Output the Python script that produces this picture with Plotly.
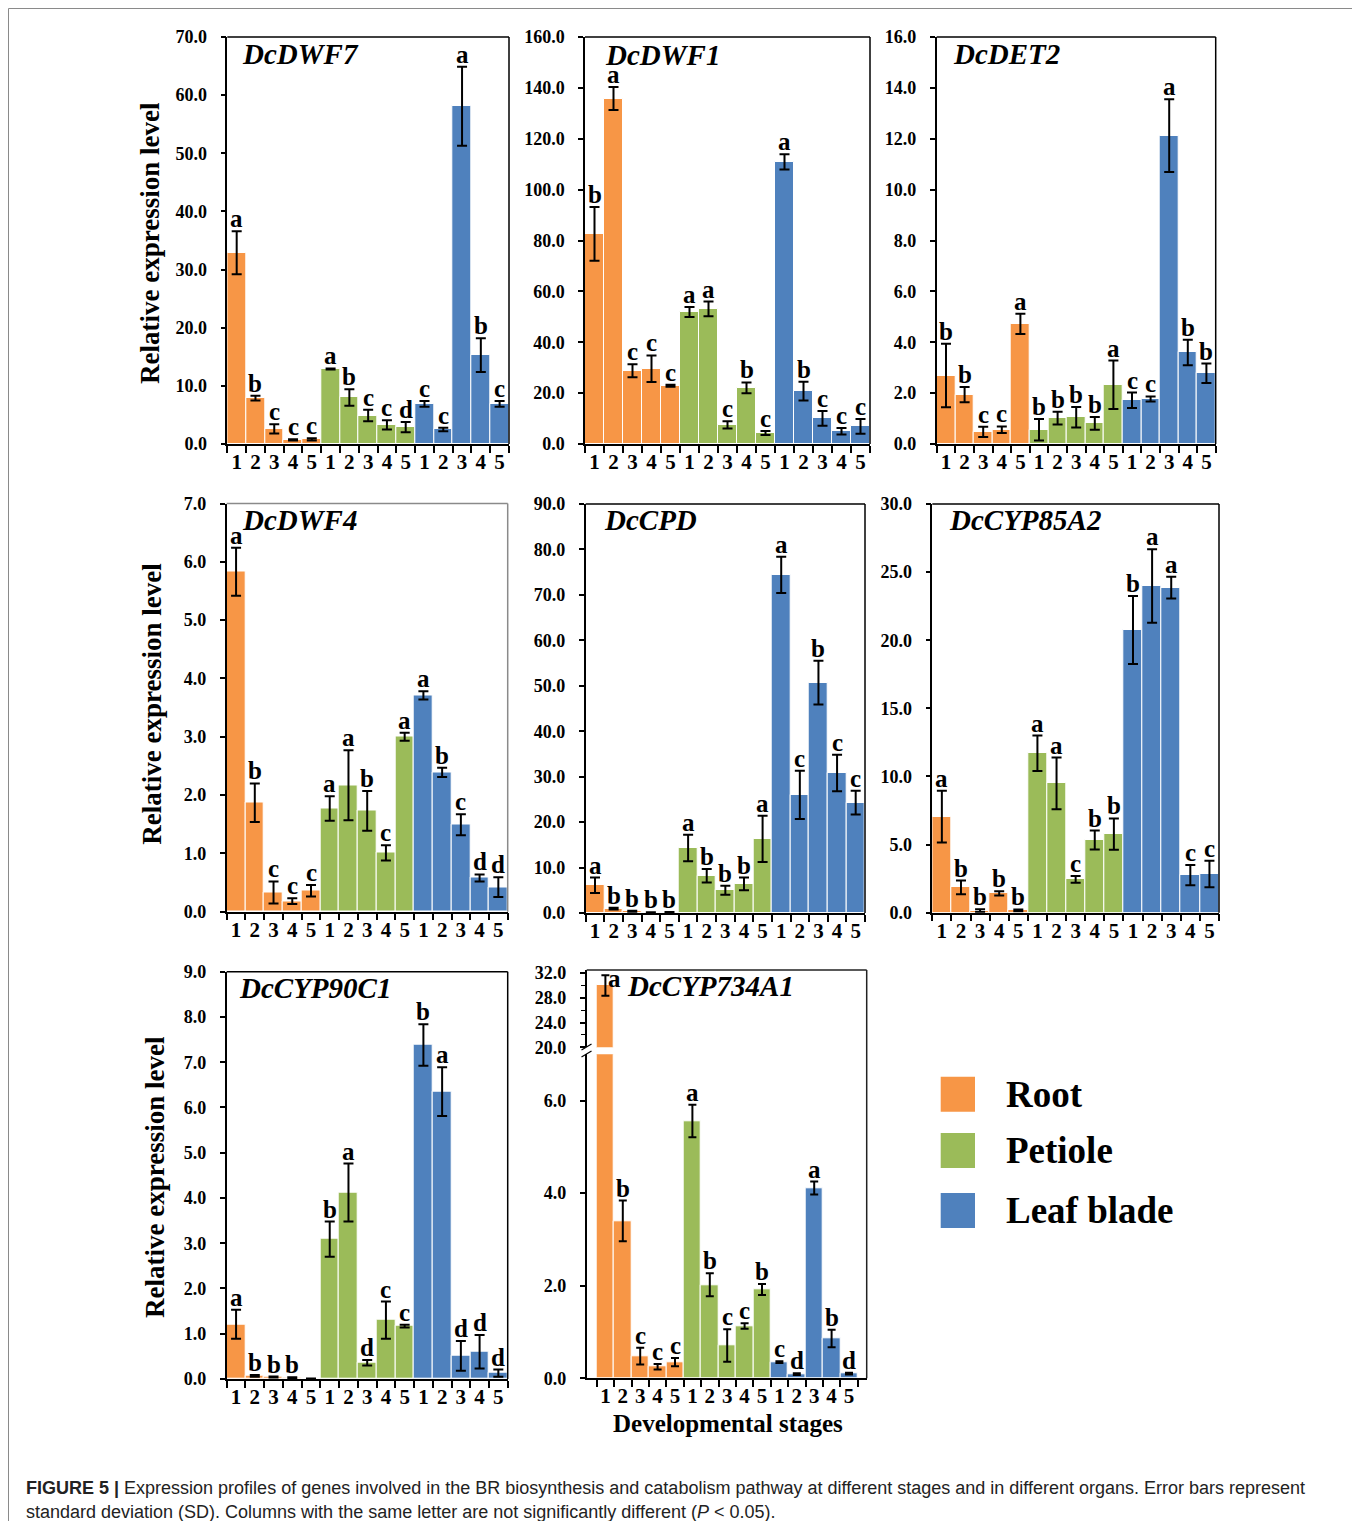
import plotly.graph_objects as go

# the page body has an 8px margin; the figure is laid out in reference pixel coordinates minus 8
OFF = 8
W, H = 1352, 1513

STAGES = ["1", "2", "3", "4", "5"]
ORGANS = ["Root", "Petiole", "Leaf blade"]
ORGAN_COLORS = ["#F79646", "#9BBB59", "#4F81BD"]

# each list: 5 root stages, 5 petiole stages, 5 leaf blade stages
DWF7_mean = [32.9, 7.9, 2.6, 0.7, 0.8, 12.9, 8.0, 4.9, 3.3, 2.9, 6.9, 2.5, 58.1, 15.3, 6.9]
DWF7_sd = [3.7, 0.4, 0.8, 0.1, 0.2, 0.1, 1.4, 1.0, 0.8, 0.9, 0.5, 0.3, 6.8, 2.9, 0.5]
DWF7_sig = ["a", "b", "c", "c", "c", "a", "b", "c", "c", "d", "c", "c", "a", "b", "c"]

DWF1_mean = [82.6, 135.8, 28.8, 29.6, 22.9, 51.9, 53.1, 7.5, 22.1, 4.3, 110.9, 20.8, 10.1, 5.0, 6.9]
DWF1_sd = [10.6, 4.5, 2.6, 5.2, 0.4, 2.0, 2.9, 1.4, 2.1, 0.8, 3.0, 3.7, 2.9, 1.3, 2.9]
DWF1_sig = ["b", "a", "c", "c", "c", "a", "a", "c", "b", "c", "a", "b", "c", "c", "c"]

DET2_mean = [2.69, 1.94, 0.48, 0.56, 4.72, 0.56, 1.02, 1.05, 0.81, 2.33, 1.72, 1.77, 12.12, 3.60, 2.78]
DET2_sd = [1.25, 0.30, 0.20, 0.13, 0.40, 0.42, 0.25, 0.40, 0.25, 0.95, 0.30, 0.10, 1.43, 0.50, 0.38]
DET2_sig = ["b", "b", "c", "c", "a", "b", "b", "b", "b", "a", "c", "c", "a", "b", "b"]

DWF4_mean = [5.83, 1.87, 0.33, 0.18, 0.36, 1.77, 2.17, 1.73, 1.01, 3.00, 3.71, 2.39, 1.49, 0.58, 0.42]
DWF4_sd = [0.41, 0.33, 0.19, 0.05, 0.10, 0.21, 0.60, 0.34, 0.13, 0.07, 0.07, 0.08, 0.18, 0.06, 0.17]
DWF4_sig = ["a", "b", "c", "c", "c", "a", "a", "b", "c", "a", "a", "b", "c", "d", "d"]

CPD_mean = [6.1, 0.95, 0.37, 0.10, 0.15, 14.3, 8.2, 5.0, 6.4, 16.3, 74.4, 26.0, 50.7, 30.8, 24.3]
CPD_sd = [1.7, 0.2, 0.1, 0.05, 0.05, 2.9, 1.5, 1.0, 1.4, 5.1, 4.0, 5.3, 4.8, 4.0, 2.6]
CPD_sig = ["a", "b", "b", "b", "b", "a", "b", "b", "b", "a", "a", "c", "b", "c", "c"]

CYP85A2_mean = [7.05, 1.86, 0.15, 1.42, 0.17, 11.7, 9.49, 2.45, 5.33, 5.77, 20.75, 23.98, 23.86, 2.76, 2.84]
CYP85A2_sd = [1.90, 0.50, 0.10, 0.15, 0.07, 1.30, 1.90, 0.25, 0.70, 1.15, 2.50, 2.70, 0.80, 0.75, 0.98]
CYP85A2_sig = ["a", "b", "b", "b", "b", "a", "a", "c", "b", "b", "b", "a", "a", "c", "c"]

CYP90C1_mean = [1.21, 0.07, 0.045, 0.03, 0.01, 3.09, 4.12, 0.36, 1.30, 1.17, 7.38, 6.35, 0.51, 0.60, 0.13]
CYP90C1_sd = [0.32, 0.02, 0.01, 0.01, 0.0, 0.39, 0.64, 0.06, 0.41, 0.03, 0.46, 0.54, 0.33, 0.37, 0.08]
CYP90C1_sig = ["a", "b", "b", "b", "", "b", "a", "d", "c", "c", "b", "a", "d", "d", "d"]

CYP734A1_mean = [30.0, 3.40, 0.48, 0.25, 0.35, 5.56, 2.02, 0.71, 1.13, 1.92, 0.35, 0.09, 4.11, 0.86, 0.10]
CYP734A1_sd = [1.65, 0.44, 0.18, 0.06, 0.09, 0.35, 0.25, 0.35, 0.06, 0.12, 0.02, 0.02, 0.14, 0.19, 0.02]
CYP734A1_sig = ["a", "b", "c", "c", "c", "a", "b", "c", "c", "b", "c", "d", "a", "b", "d"]

Y_TITLE = "Relative expression level"
X_TITLE = "Developmental stages"
CAPTION_1 = ("<b>FIGURE 5 |</b> Expression profiles of genes involved in the BR biosynthesis and catabolism "
             "pathway at different stages and in different organs. Error bars represent")
CAPTION_2 = ("standard deviation (SD). Columns with the same letter are not significantly different "
             "(<i>P</i> &lt; 0.05).")

SERIF = "Liberation Serif"


def fx(px):
    return (px - OFF) / W


def fy(py):
    return 1 - (py - OFF) / H


# panel geometry in reference pixels: (left, right, top, bottom)
panels = [
    dict(gene="DcDWF7", mean=DWF7_mean, sd=DWF7_sd, sig=DWF7_sig, yr=[0, 70], dt=10,
         box=(227.3, 509, 37, 444), name=(240, 54), frame="black"),
    dict(gene="DcDWF1", mean=DWF1_mean, sd=DWF1_sd, sig=DWF1_sig, yr=[0, 160], dt=20,
         box=(585, 870, 37, 444), name=(603, 55), frame="black"),
    dict(gene="DcDET2", mean=DET2_mean, sd=DET2_sd, sig=DET2_sig, yr=[0, 16], dt=2,
         box=(936.7, 1215.7, 37, 444), name=(951, 54), frame="black"),
    dict(gene="DcDWF4", mean=DWF4_mean, sd=DWF4_sd, sig=DWF4_sig, yr=[0, 7], dt=1,
         box=(226.7, 507.7, 503.5, 911.7), name=(240, 520), frame="#8a8a8a"),
    dict(gene="DcCPD", mean=CPD_mean, sd=CPD_sd, sig=CPD_sig, yr=[0, 90], dt=10,
         box=(585.7, 865, 504, 913), name=(602, 520), frame="black"),
    dict(gene="DcCYP85A2", mean=CYP85A2_mean, sd=CYP85A2_sd, sig=CYP85A2_sig, yr=[0, 30], dt=5,
         box=(932.3, 1219, 504, 912.7), name=(947, 520), frame="black"),
    dict(gene="DcCYP90C1", mean=CYP90C1_mean, sd=CYP90C1_sd, sig=CYP90C1_sig, yr=[0, 9], dt=1,
         box=(226.7, 507.7, 971.7, 1379), name=(236.7, 988), frame="black"),
    dict(gene="DcCYP734A1", mean=CYP734A1_mean, sd=CYP734A1_sd, sig=CYP734A1_sig, yr=[0, 7.0], dt=2,
         box=(586.7, 866.7, 1054.3, 1378.3), name=(625, 986), frame="#222222"),
]
# broken-axis upper segment for the last panel
UPPER_BOX = (586.7, 866.7, 970, 1047.3)
UPPER_RANGE = [20, 32.5]

fig = go.Figure()
layout = dict(
    width=W, height=H, margin=dict(l=0, r=0, t=0, b=0, pad=0, autoexpand=False),
    paper_bgcolor="white", plot_bgcolor="white", showlegend=False,
    bargap=0, barmode="overlay",
)
annotations = []
shapes = []

tick_vals = list(range(1, 16))
tick_text = STAGES * 3
boundaries = [i + 0.5 for i in range(0, 16)]


def add_bars(xref, yref, p, err_w):
    for k, organ in enumerate(ORGANS):
        xs = [k * 5 + j + 1 for j in range(5)]
        fig.add_trace(go.Bar(
            x=xs, y=p["mean"][k * 5:(k + 1) * 5], name=organ,
            marker=dict(color=ORGAN_COLORS[k], line=dict(color="white", width=1)),
            error_y=dict(type="data", array=p["sd"][k * 5:(k + 1) * 5], color="black",
                         thickness=2, width=err_w, visible=True),
            width=1.0, xaxis=xref, yaxis=yref, hoverinfo="skip",
        ))


for i, p in enumerate(panels, start=1):
    sfx = "" if i == 1 else str(i)
    xref, yref = "x" + sfx, "y" + sfx
    l, r, t, b = p["box"]
    last = (i == 8)
    if last:
        slot = 17.4
        xr = [1 - 0.5 - (596.7 - l) / slot, 15.5 + (r - 857.7) / slot]
    else:
        xr = [0.5, 15.5]
    add_bars(xref, yref, p, 4 if last else 5)
    layout["xaxis" + sfx] = dict(
        domain=[fx(l), fx(r)], anchor=yref, range=xr, showgrid=False, zeroline=False,
        automargin=False,
        showline=True, linecolor="black", linewidth=1.5,
        tickmode="array", tickvals=tick_vals, ticktext=tick_text, ticks="",
        ticklabelstandoff=-2,
        tickfont=dict(family=SERIF, size=21, color="black", weight="bold"),
        minor=dict(tickmode="array", tickvals=boundaries, ticks="outside", ticklen=7,
                   tickwidth=1.5, tickcolor="black"),
        fixedrange=True,
    )
    ydict = dict(
        domain=[fy(b), fy(t)], anchor=xref, range=p["yr"], showgrid=False, zeroline=False,
        automargin=False,
        showline=True, linecolor="black", linewidth=1.5,
        ticks="outside", ticklen=5, tickwidth=1.5, tickcolor="black", tickformat=".1f",
        ticklabelstandoff=10,
        tickfont=dict(family=SERIF, size=18, color="black", weight="bold"),
        fixedrange=True,
    )
    if last:
        ydict.update(tickmode="array", tickvals=[0, 2, 4, 6])
    else:
        ydict.update(tick0=0, dtick=p["dt"])
    layout["yaxis" + sfx] = ydict

    # top and right frame lines
    if last:
        shapes.append(dict(type="line", xref="paper", yref="paper",
                           x0=fx(l), x1=fx(r), y0=fy(UPPER_BOX[2]), y1=fy(UPPER_BOX[2]),
                           line=dict(color=p["frame"], width=1.5)))
        shapes.append(dict(type="line", xref="paper", yref="paper",
                           x0=fx(r), x1=fx(r), y0=fy(UPPER_BOX[2]), y1=fy(b),
                           line=dict(color=p["frame"], width=1.5)))
    else:
        shapes.append(dict(type="line", xref=xref + " domain", yref=yref + " domain",
                           x0=0, x1=1, y0=1, y1=1, line=dict(color=p["frame"], width=1.5)))
        shapes.append(dict(type="line", xref=xref + " domain", yref=yref + " domain",
                           x0=1, x1=1, y0=0, y1=1, line=dict(color=p["frame"], width=1.5)))

    # gene name
    nx, ny = p["name"]
    annotations.append(dict(
        text=p["gene"], xref="paper", yref="paper", x=fx(nx), y=fy(ny),
        xanchor="left", yanchor="middle", showarrow=False,
        font=dict(family=SERIF, size=29, color="black", weight="bold", style="italic"),
    ))

    # significance letters
    for j, s in enumerate(p["sig"]):
        if not s:
            continue
        if last and j == 0:
            continue
        annotations.append(dict(
            text=s, xref=xref, yref=yref, x=j + 1, y=p["mean"][j] + p["sd"][j],
            xanchor="center", yanchor="bottom", showarrow=False, yshift=-3,
            font=dict(family=SERIF, size=25, color="black", weight="bold"),
        ))

# upper segment of the broken axis (last panel)
p8 = panels[7]
ul, ur, ut, ub = UPPER_BOX
add_bars("x9", "y9", p8, 4)
layout["xaxis9"] = dict(
    domain=[fx(ul), fx(ur)], anchor="y9", range=layout["xaxis8"]["range"], showgrid=False,
    zeroline=False, showline=False, showticklabels=False, ticks="", fixedrange=True,
    automargin=False,
)
layout["yaxis9"] = dict(
    domain=[fy(ub), fy(ut)], anchor="x9", range=UPPER_RANGE, showgrid=False, zeroline=False,
    automargin=False,
    showline=True, linecolor="black", linewidth=1.5,
    tickmode="array", tickvals=[20, 24, 28, 32], tickformat=".1f",
    ticks="outside", ticklen=5, tickwidth=1.5, tickcolor="black", ticklabelstandoff=10,
    tickfont=dict(family=SERIF, size=18, color="black", weight="bold"),
    minor=dict(tickmode="array", tickvals=[22, 26, 30], ticks="outside", ticklen=4,
               tickwidth=1.2, tickcolor="black"),
    fixedrange=True,
)
annotations.append(dict(
    text=p8["sig"][0], xref="x9", yref="y9", x=1.52, y=p8["mean"][0] + p8["sd"][0],
    xanchor="center", yanchor="middle", showarrow=False, yshift=-3,
    font=dict(family=SERIF, size=25, color="black", weight="bold"),
))
# break marks on the axis
for dy in (-3.5, 3.5):
    shapes.append(dict(type="line", xref="paper", yref="paper",
                       x0=fx(581.5), x1=fx(591.5), y0=fy(1053.5 + dy), y1=fy(1047.5 + dy),
                       line=dict(color="black", width=1.2)))

# y-axis titles
for cx, cy in [(150, 243), (151.7, 704), (155, 1177)]:
    annotations.append(dict(
        text=Y_TITLE, xref="paper", yref="paper", x=fx(cx), y=fy(cy),
        xanchor="center", yanchor="middle", textangle=-90, showarrow=False,
        font=dict(family=SERIF, size=27, color="black", weight="bold"),
    ))

# x-axis title
annotations.append(dict(
    text=X_TITLE, xref="paper", yref="paper", x=fx(728), y=fy(1423),
    xanchor="center", yanchor="middle", showarrow=False,
    font=dict(family=SERIF, size=25, color="black", weight="bold"),
))

# legend
legend_rows = [(1076.7, 1111.7), (1133, 1168), (1193, 1228)]
for k, organ in enumerate(ORGANS):
    y0, y1 = legend_rows[k]
    shapes.append(dict(type="rect", xref="paper", yref="paper",
                       x0=fx(940.7), x1=fx(975), y0=fy(y1), y1=fy(y0),
                       fillcolor=ORGAN_COLORS[k], line=dict(width=0)))
    annotations.append(dict(
        text=organ, xref="paper", yref="paper", x=fx(1004), y=fy((y0 + y1) / 2),
        xanchor="left", yanchor="middle", showarrow=False,
        font=dict(family=SERIF, size=37, color="black", weight="bold"),
    ))

# caption
for txt, cy in [(CAPTION_1, 1488), (CAPTION_2, 1512)]:
    annotations.append(dict(
        text=txt, xref="paper", yref="paper", x=fx(24), y=fy(cy),
        xanchor="left", yanchor="middle", showarrow=False, align="left",
        font=dict(family="Liberation Sans", size=18, color="#222222"),
    ))

# outer figure border
shapes.append(dict(type="rect", xref="paper", yref="paper",
                   x0=fx(8.5), x1=fx(1356), y0=fy(1560), y1=fy(8.5),
                   line=dict(color="#8a8a8a", width=1), layer="below"))

layout["annotations"] = annotations
layout["shapes"] = shapes
fig.update_layout(**layout)
fig.write_html("out.html")
